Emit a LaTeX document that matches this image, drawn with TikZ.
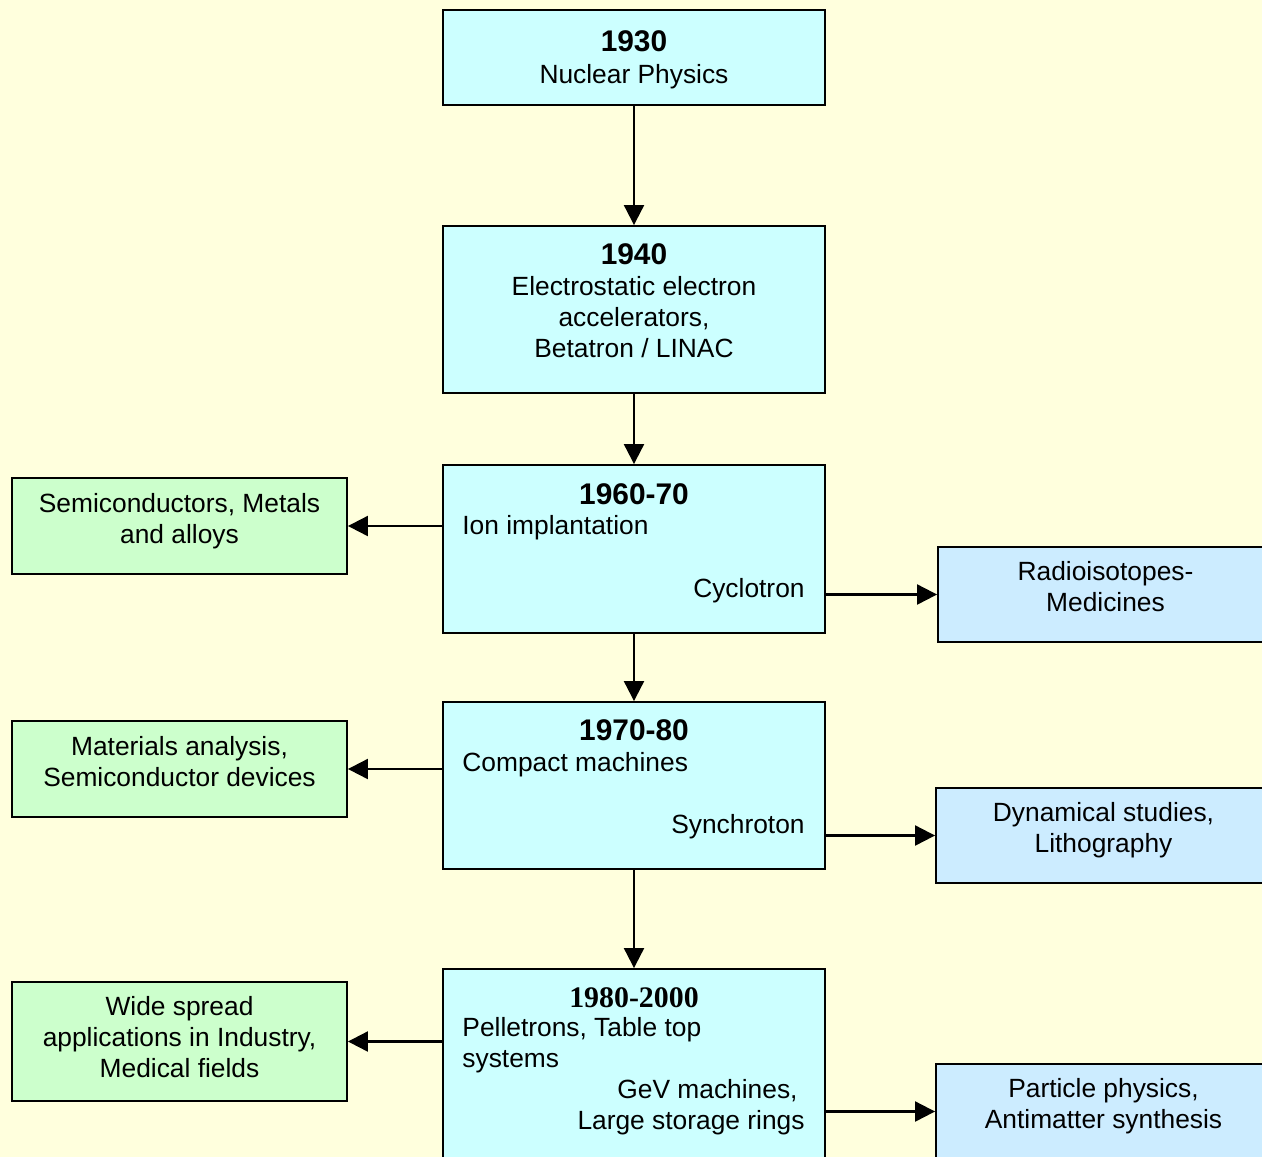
\documentclass[tikz,border=0pt]{standalone}
\usepackage{fontspec}
\setmainfont{Liberation Sans}
\newfontfamily\timesfont{Liberation Serif}
\usetikzlibrary{arrows.meta}
\definecolor{bgyellow}{RGB}{255,255,221}
\definecolor{stagecyan}{RGB}{204,255,255}
\definecolor{usegreen}{RGB}{204,255,204}
\definecolor{useblue}{RGB}{204,236,255}
\newcommand{\descsize}{\fontsize{15}{17.6}\selectfont}
\newcommand{\yearsize}{\fontsize{17}{20}\selectfont}

\begin{document}
\begin{tikzpicture}[x=0.02cm, y=-0.02cm]
    \tikzstyle{stage} = [rectangle, draw, fill=stagecyan, line width=1.1pt, minimum width=7.64cm, inner sep=0pt]
    \tikzstyle{usage} = [rectangle, draw, fill=usegreen, line width=1.1pt, minimum width=6.7cm,
                                      minimum height=1.92cm, align=center, font=\descsize, text depth=9pt]
    \tikzstyle{spinoff} = [usage, fill=useblue, minimum height=1.9cm]
    \tikzstyle{year} = [inner sep=0pt, font=\bfseries\yearsize]
    \tikzstyle{desc} = [inner sep=0pt, font=\descsize]
    \tikzstyle{arr} = [line width=1.2pt, -{Triangle[length=0.4cm, width=0.4cm]}]
  \useasboundingbox (0,0) rectangle (1262,1157);
  \clip (0,0) rectangle (1262,1157);
  \fill[bgyellow] (0,0) rectangle (1262,1157);
  % main time line
  \node[stage, minimum height=1.9cm](b1930) at (634,57.5){};
  \node[stage, minimum height=3.34cm](b1940) at (634,309.5){};
  \node[stage, minimum height=3.36cm](b1960) at (634,549){};
  \node[stage, minimum height=3.34cm](b1970) at (634,785.5){};
  \node[stage, minimum height=4.6cm](b1980) at (634,1084){};
  \node[year](y1930) at ([yshift=-0.64cm]b1930.north){1930};
  \node[desc](t1930) at ([yshift=-1.36cm]b1930.north){Nuclear Physics};
  \node[year](y1940) at ([yshift=-0.58cm]b1940.north){1940};
  \node[desc, align=center](t1940) at ([yshift=-1.84cm]b1940.north){Electrostatic electron\\accelerators,\\Betatron / LINAC};
  \node[year](y1960) at ([yshift=-0.6cm]b1960.north){1960-70};
  \node[desc, anchor=west](t1960) at ([xshift=0.4cm, yshift=-1.28cm]b1960.north west){Ion implantation};
  \node[desc, anchor=east](m1960) at ([xshift=-0.42cm, yshift=-2.54cm]b1960.north east){Cyclotron};
  \node[year](y1970) at ([yshift=-0.58cm]b1970.north){1970-80};
  \node[desc, anchor=west](t1970) at ([xshift=0.4cm, yshift=-1.28cm]b1970.north west){Compact machines};
  \node[desc, anchor=east](m1970) at ([xshift=-0.42cm, yshift=-2.52cm]b1970.north east){Synchroton};
  \node[year, font=\timesfont\bfseries\yearsize](y1980) at ([yshift=-0.6cm]b1980.north){1980-2000};
  \node[desc, anchor=west, align=left](t1980) at ([xshift=0.4cm, yshift=-1.54cm]b1980.north west){Pelletrons, Table top\\systems};
  \node[desc, anchor=east, align=right](m1980) at ([xshift=-0.42cm, yshift=-2.78cm]b1980.north east){GeV machines,\hspace*{4pt}\\Large storage rings};
  % applications
  \node[usage](g1960) at (179.5,526){Semiconductors, Metals\\and alloys};
  \node[usage](g1970) at (179.5,769){Materials analysis,\\Semiconductor devices};
  \node[usage, minimum height=2.38cm, text depth=5pt](g1980) at (179.5,1041.5){Wide spread\\applications in Industry,\\Medical fields};
  \node[spinoff](r1960) at (1105.5,594.5){Radioisotopes-\\Medicines};
  \node[spinoff](r1970) at (1103.5,835.5){Dynamical studies,\\Lithography};
  \node[spinoff](r1980) at (1103.5,1111.5){Particle physics,\\Antimatter synthesis};
  \draw[arr] (b1930) -- (b1940);
  \draw[arr] (b1940) -- (b1960);
  \draw[arr] (b1960) -- (b1970);
  \draw[arr] (b1970) -- (b1980);
  \draw[arr] (b1960.west |- g1960) -- (g1960.east);
  \draw[arr] (b1970.west |- g1970) -- (g1970.east);
  \draw[arr] (b1980.west |- g1980) -- (g1980.east);
  \draw[arr] (b1960.east |- r1960) -- (r1960.west);
  \draw[arr] (b1970.east |- r1970) -- (r1970.west);
  \draw[arr] (b1980.east |- r1980) -- (r1980.west);
\end{tikzpicture}
\end{document}
